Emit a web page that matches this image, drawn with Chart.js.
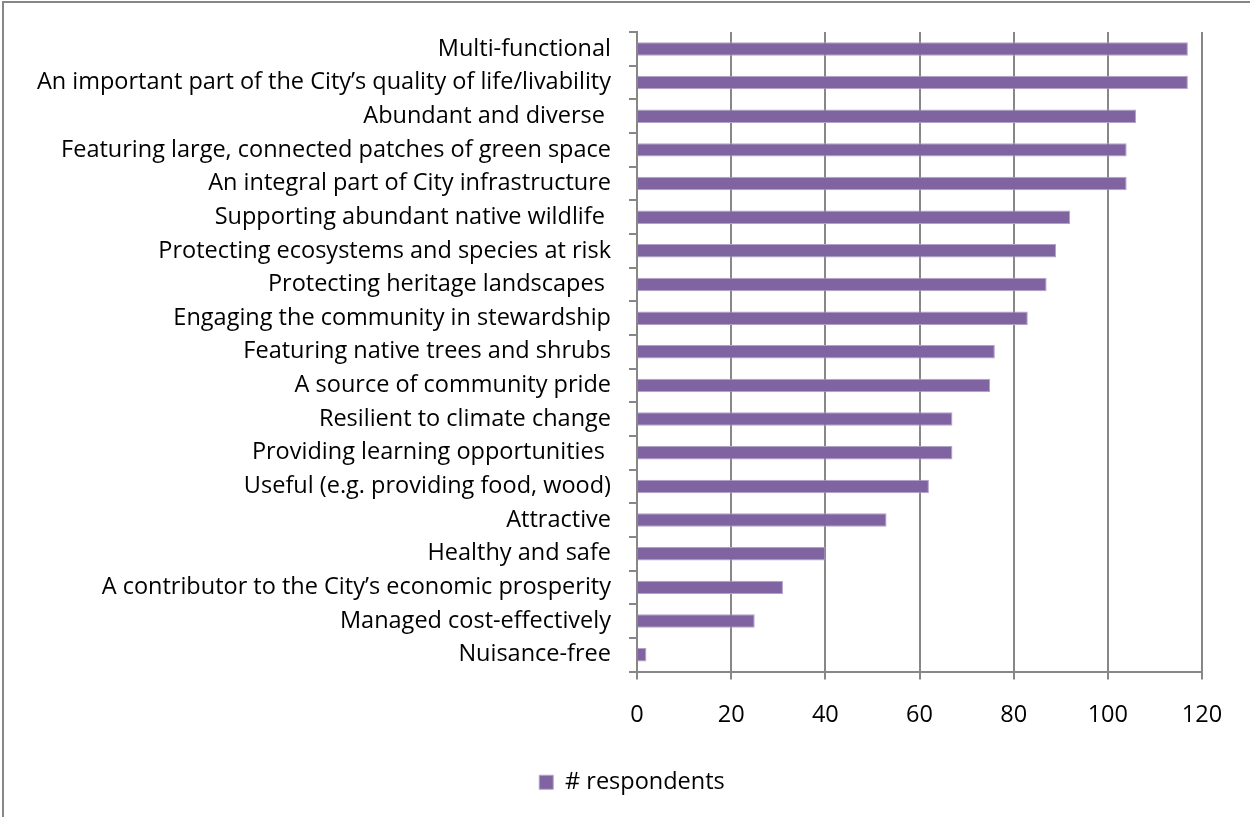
<!DOCTYPE html>
<html>
<head>
<meta charset="utf-8">
<title># respondents</title>
<script src="https://cdn.jsdelivr.net/npm/chart.js@4"></script>
<style>
    html, body { margin: 0; padding: 0; background: #fff; overflow: hidden; }
    #frame {
        position: absolute;
        left: 2px;
        top: 1px;
        width: 1400px;
        height: 1000px;
        border-left: 2px solid #878787;
        border-top: 2px solid #878787;
    }
    #chart-box {
        position: absolute;
        left: 0;
        top: 0;
        width: 1250px;
        height: 817px;
    }
</style>
</head>
<body>
<div id="frame"></div>
<div id="chart-box"><canvas id="respondents-chart"></canvas></div>
<script>
// --- Data ---
const categories = [
    'Multi-functional',
    'An important part of the City\u2019s quality of life/livability',
    'Abundant and diverse ',
    'Featuring large, connected patches of green space',
    'An integral part of City infrastructure',
    'Supporting abundant native wildlife ',
    'Protecting ecosystems and species at risk',
    'Protecting heritage landscapes ',
    'Engaging the community in stewardship',
    'Featuring native trees and shrubs',
    'A source of community pride',
    'Resilient to climate change',
    'Providing learning opportunities ',
    'Useful (e.g. providing food, wood)',
    'Attractive',
    'Healthy and safe',
    'A contributor to the City\u2019s economic prosperity',
    'Managed cost-effectively',
    'Nuisance-free'
];
const respondents = [117, 117, 106, 104, 104, 92, 89, 87, 83, 76, 75, 67, 67, 62, 53, 40, 31, 25, 2];
const xTicks = [0, 20, 40, 60, 80, 100, 120];
const seriesLabel = '# respondents';

// --- Styles ---
const FONT = { family: '"Open Sans", Lato, sans-serif', size: 23.5 };
const BAR_COLOR = '#8064A2';
const BAR_EDGE = '#b3a2c7';
const GRID_COLOR = '#878787';

// Left edge of the plot area; labels are right-aligned against it
const PLOT_LEFT = 637;
// Legend sits a little right of the plot's centre
const LEGEND_SHIFT = 31;

// Nudge the legend box sideways once the layout is done
const legendShift = {
    id: 'legendShift',
    afterLayout(chart) {
        const legend = chart.legend;
        if (!legend) return;
        legend.left += LEGEND_SHIFT;
        legend.right += LEGEND_SHIFT;
    }
};

const ctx = document.getElementById('respondents-chart').getContext('2d');

const chart = new Chart(ctx, {
    type: 'bar',
    data: {
        labels: categories,
        datasets: [{
            label: seriesLabel,
            data: respondents,
            backgroundColor: BAR_COLOR,
            borderColor: BAR_EDGE,
            borderWidth: 1,
            borderSkipped: 'start',
            barPercentage: 0.8,
            categoryPercentage: 0.5
        }]
    },
    options: {
        indexAxis: 'y',
        responsive: true,
        maintainAspectRatio: false,
        animation: false,
        layout: {
            padding: { left: 0, right: 48, top: 31, bottom: 13 }
        },
        scales: {
            x: {
                min: 0,
                max: 120,
                afterBuildTicks: (scale) => {
                    scale.ticks = xTicks.map(v => ({ value: v }));
                },
                afterFit: (scale) => {
                    scale.height = 89;
                },
                grid: {
                    color: GRID_COLOR,
                    lineWidth: 2,
                    tickLength: 8,
                    drawTicks: true
                },
                border: { color: GRID_COLOR, width: 2 },
                ticks: {
                    color: '#000',
                    font: FONT,
                    padding: 22,
                    maxRotation: 0
                }
            },
            y: {
                afterFit: (scale) => {
                    scale.width = PLOT_LEFT;
                },
                grid: {
                    display: true,
                    offset: true,
                    drawOnChartArea: false,
                    color: GRID_COLOR,
                    lineWidth: 2,
                    tickLength: 8
                },
                border: { color: GRID_COLOR, width: 2 },
                ticks: {
                    color: '#000',
                    font: FONT,
                    padding: 18,
                    autoSkip: false
                }
            }
        },
        plugins: {
            legend: {
                position: 'bottom',
                labels: {
                    color: '#000',
                    font: FONT,
                    boxWidth: 14,
                    boxHeight: 14,
                    padding: 10
                }
            },
            tooltip: { enabled: false }
        }
    },
    plugins: [legendShift]
});
</script>
</body>
</html>
